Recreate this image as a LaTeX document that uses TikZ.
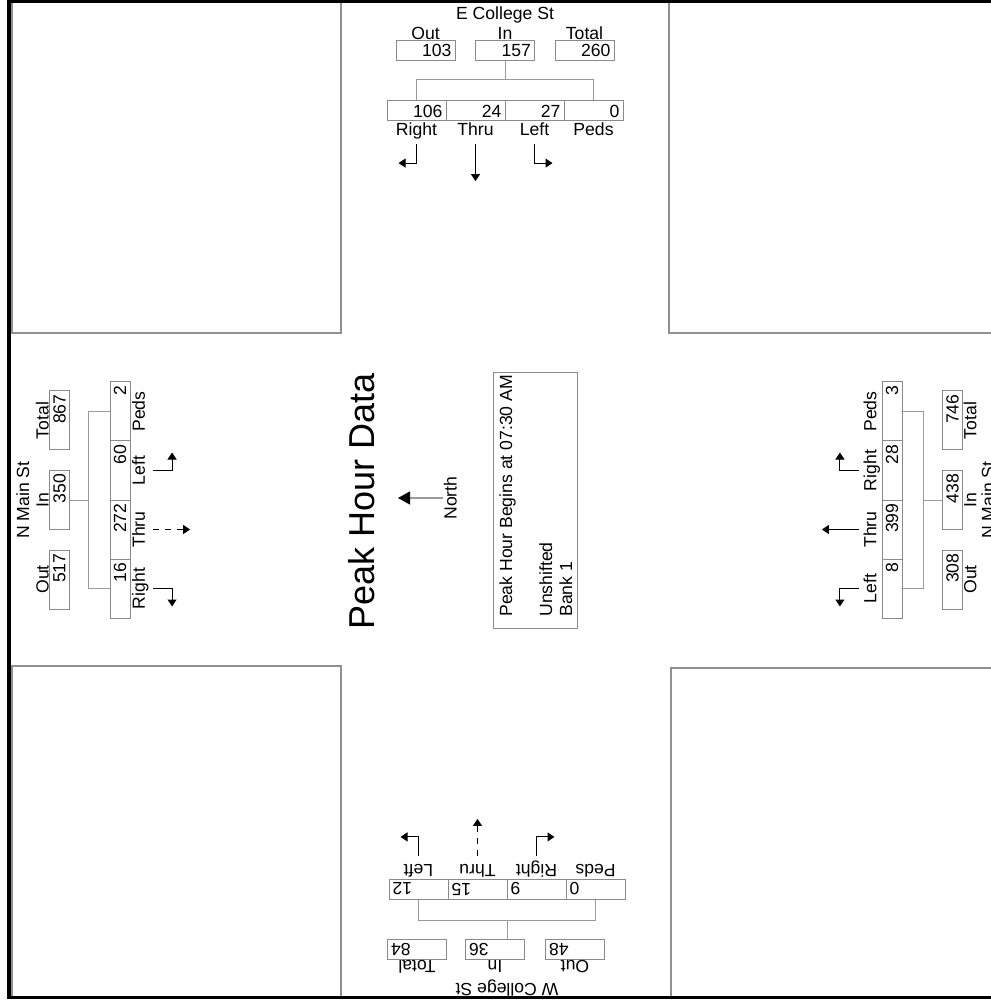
\documentclass[tikz,border=0pt]{standalone}
\usepackage{fontspec}
\setmainfont{Liberation Sans}
\usetikzlibrary{arrows.meta,positioning}
\definecolor{boxgray}{HTML}{8A8A8A}
\definecolor{wiregray}{HTML}{9A9A9A}
\definecolor{framegray}{HTML}{909090}

\begin{document}
\begin{tikzpicture}[
  x=0.5pt, y=0.5pt,
  countbox/.style={rectangle, draw=boxgray, line width=0.5pt, minimum width=29.5pt, minimum height=10pt, text width=26pt, align=right, inner xsep=1.75pt, inner ysep=0pt, font=\fontsize{8.8}{10}\selectfont},
  lab/.style={inner sep=0pt, text height=6.5pt, text depth=1.9pt, font=\fontsize{8.8}{10}\selectfont},
  road/.style={inner sep=0pt, anchor=base, font=\fontsize{8.8}{10}\selectfont},
  wire/.style={draw=wiregray, line width=0.5pt},
  turn/.style={-{Triangle[length=3.5pt,width=4.5pt]}, draw=black, line width=0.5pt},
  block/.style={draw=framegray, line width=0.7pt}
]
  \useasboundingbox (0,0) rectangle (990,-1004);

  % corner blocks and frame
  \draw[block] (12,-2) rectangle (341,-333);
  \draw[block] (669,-2) rectangle (994,-333);
  \draw[block] (12,-666) rectangle (341,-998);
  \draw[block] (671,-668) rectangle (994,-998);
  \draw[line width=1.75pt] (994,-1.7) -- (9.2,-1.7) -- (9.2,-997.5) -- (994,-997.5);

  % E College St
  \begin{scope}[shift={(505,-80)}]
    \node[road] (topName) at (0,60) {E College St};
    \node[countbox] (topOut) at (-79.5,29.5) {103};
    \node[countbox] (topIn) at (0,29.5) {157};
    \node[countbox] (topTot) at (79.5,29.5) {260};
    \node[lab, above=-1.9pt of topOut] (topOutl) {Out};
    \node[lab, above=-1.9pt of topIn] (topInl) {In};
    \node[lab, above=-1.9pt of topTot] (topTotl) {Total};
    \node[countbox] (topR) at (-88.5,-31) {106};
    \node[countbox] (topT) at (-29.5,-31) {24};
    \node[countbox] (topL) at (29.5,-31) {27};
    \node[countbox] (topP) at (88.5,-31) {0};
    \node[lab, below=0.5pt of topR] (topRl) {Right};
    \node[lab, below=0.5pt of topT] (topTl) {Thru};
    \node[lab, below=0.5pt of topL] (topLl) {Left};
    \node[lab, below=0.5pt of topP] (topPl) {Peds};
    \coordinate (topJ) at (0,0);
    \draw[wire] (topIn) -- (topJ);
    \draw[wire] (topR.north) -- ++(0,21) -- ++(177,0) -- (topP.north);
    \draw[turn] (topRl.south) ++(0,-4) -- ++(0,-19) -- ++(-18,0);
    \draw[turn] (topTl.south) ++(0,-4) -- ++(0,-37);
    \draw[turn] (topLl.south) ++(0,-4) -- ++(0,-19) -- ++(18,0);
  \end{scope}

  % N Main St, left side
  \begin{scope}[shift={(89,-500)}, rotate=90, transform shape]
    \node[road] (lftName) at (0,60) {N Main St};
    \node[countbox] (lftOut) at (-79.5,29.5) {517};
    \node[countbox] (lftIn) at (0,29.5) {350};
    \node[countbox] (lftTot) at (79.5,29.5) {867};
    \node[lab, above=-1.9pt of lftOut] (lftOutl) {Out};
    \node[lab, above=-1.9pt of lftIn] (lftInl) {In};
    \node[lab, above=-1.9pt of lftTot] (lftTotl) {Total};
    \node[countbox] (lftR) at (-88.5,-31) {16};
    \node[countbox] (lftT) at (-29.5,-31) {272};
    \node[countbox] (lftL) at (29.5,-31) {60};
    \node[countbox] (lftP) at (88.5,-31) {2};
    \node[lab, below=0.5pt of lftR] (lftRl) {Right};
    \node[lab, below=0.5pt of lftT] (lftTl) {Thru};
    \node[lab, below=0.5pt of lftL] (lftLl) {Left};
    \node[lab, below=0.5pt of lftP] (lftPl) {Peds};
    \coordinate (lftJ) at (0,0);
    \draw[wire] (lftIn) -- (lftJ);
    \draw[wire] (lftR.north) -- ++(0,21) -- ++(177,0) -- (lftP.north);
    \draw[turn] (lftRl.south) ++(0,-4) -- ++(0,-19) -- ++(-18,0);
    \draw[turn, dashed] (lftTl.south) ++(0,-4) -- ++(0,-37);
    \draw[turn] (lftLl.south) ++(0,-4) -- ++(0,-19) -- ++(18,0);
  \end{scope}

  % W College St
  \begin{scope}[shift={(507,-920)}, rotate=180, transform shape]
    \node[road] (botName) at (0,63) {W College St};
    \node[countbox] (botOut) at (-68,29.5) {48};
    \node[countbox] (botIn) at (12,29.5) {36};
    \node[countbox] (botTot) at (90,29.5) {84};
    \node[lab, above=-1.9pt of botOut] (botOutl) {Out};
    \node[lab, above=-1.9pt of botIn] (botInl) {In};
    \node[lab, above=-1.9pt of botTot] (botTotl) {Total};
    \node[countbox] (botP) at (-88.5,-31) {0};
    \node[countbox] (botR) at (-29.5,-31) {9};
    \node[countbox] (botT) at (29.5,-31) {15};
    \node[countbox] (botL) at (88.5,-31) {12};
    \node[lab, below=0.5pt of botP] (botPl) {Peds};
    \node[lab, below=0.5pt of botR] (botRl) {Right};
    \node[lab, below=0.5pt of botT] (botTl) {Thru};
    \node[lab, below=0.5pt of botL] (botLl) {Left};
    \coordinate (botJ) at (0,0);
    \draw[wire] (botIn.south -| botJ) -- (botJ);
    \draw[wire] (botP.north) -- ++(0,21) -- ++(177,0) -- (botL.north);
    \draw[turn] (botLl.south) ++(0,-4) -- ++(0,-19) -- ++(18,0);
    \draw[turn, dashed] (botTl.south) ++(0,-4) -- ++(0,-37);
    \draw[turn] (botRl.south) ++(0,-4) -- ++(0,-19) -- ++(-18,0);
  \end{scope}

  % N Main St, right side
  \begin{scope}[shift={(923,-500)}, rotate=90, transform shape]
    \node[road] (rgtName) at (0,-71) {N Main St};
    \node[countbox] (rgtOut) at (-79.5,-29.5) {308};
    \node[countbox] (rgtIn) at (0,-29.5) {438};
    \node[countbox] (rgtTot) at (79.5,-29.5) {746};
    \node[lab, below=0pt of rgtOut] (rgtOutl) {Out};
    \node[lab, below=0pt of rgtIn] (rgtInl) {In};
    \node[lab, below=0pt of rgtTot] (rgtTotl) {Total};
    \node[countbox] (rgtL) at (-88.5,31) {8};
    \node[countbox] (rgtT) at (-29.5,31) {399};
    \node[countbox] (rgtR) at (29.5,31) {28};
    \node[countbox] (rgtP) at (88.5,31) {3};
    \node[lab, above=0.5pt of rgtL] (rgtLl) {Left};
    \node[lab, above=0.5pt of rgtT] (rgtTl) {Thru};
    \node[lab, above=0.5pt of rgtR] (rgtRl) {Right};
    \node[lab, above=0.5pt of rgtP] (rgtPl) {Peds};
    \coordinate (rgtJ) at (0,0);
    \draw[wire] (rgtIn) -- (rgtJ);
    \draw[wire] (rgtL.south) -- ++(0,-21) -- ++(177,0) -- (rgtP.south);
    \draw[turn] (rgtLl.north) ++(0,4) -- ++(0,19) -- ++(-18,0);
    \draw[turn] (rgtTl.north) ++(0,4) -- ++(0,37);
    \draw[turn] (rgtRl.north) ++(0,4) -- ++(0,19) -- ++(18,0);
  \end{scope}

  % centre
  \node[rotate=90, inner sep=0pt, font=\fontsize{18}{20}\selectfont] (peak) at (362,-501) {Peak Hour Data};
  \node[lab, rotate=90] (north) at (452,-498) {North};
  \coordinate (ntip) at (398,-498);
  \draw[wire, line width=0.6pt, -{Triangle[length=6pt,width=6.5pt,black]}] (north.north) -- (ntip);
  \node[rotate=90, draw=boxgray, line width=0.5pt, minimum width=127.5pt, minimum height=42pt, inner sep=0pt] (info) at (535,-500.5) {};
  \node[rotate=90, anchor=north west, align=left, inner sep=0pt, font=\fontsize{8.8}{10}\selectfont] (infotext) at (499,-617) {Peak Hour Begins at 07:30 AM\\[10pt]Unshifted\\Bank 1};
\end{tikzpicture}
\end{document}
